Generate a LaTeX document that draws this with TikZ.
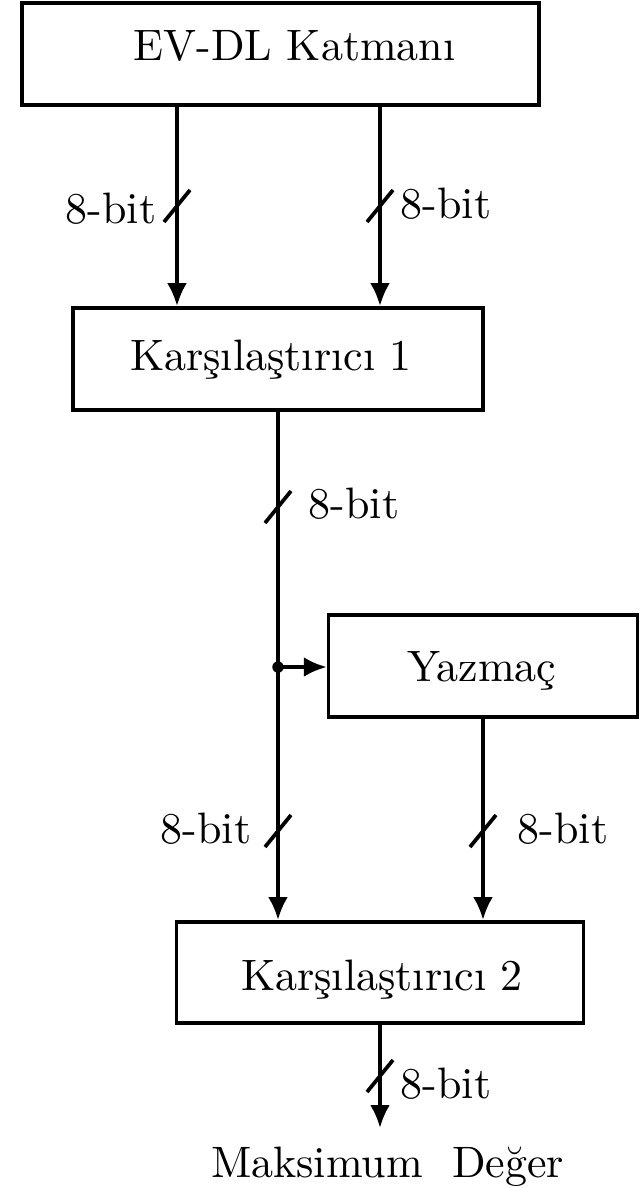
\documentclass[tikz,border=0pt]{standalone}
\usepackage{fontspec}
\usetikzlibrary{arrows.meta}

\begin{document}
\begin{tikzpicture}[x=0.2273pt,y=-0.2273pt,
  blk/.style={draw,line width=0.85pt,inner sep=0pt,minimum height=23.2pt},
  wire/.style={line width=0.85pt},
  arr/.style={wire,-{Latex[length=5.2pt,width=4.5pt]}},
  txt/.style={inner sep=0pt,anchor=base},
  bitlbl/.style={inner sep=0pt},
  junct/.style={circle,fill,inner sep=0pt,minimum size=2.6pt}]
\useasboundingbox (0,0) rectangle (641,1188);

% blocks
\node[blk,minimum width=117.5pt] (evdl) at (280.5,54) {};
\node[txt] (evdl-t) at (294.5,60) {EV-DL Katmanı};

\node[blk,minimum width=93.2pt] (k1) at (278,359) {};
\node[txt] (k1-t) at (271,370) {Karşılaştırıcı 1};

\node[blk,minimum width=70.2pt] (yaz) at (483,666) {};
\node[txt] (yaz-t) at (482,681) {Yazmaç};

\node[blk,minimum width=92.5pt,minimum height=23pt] (k2) at (380,972.5) {};
\node[txt] (k2-t) at (382,990) {Karşılaştırıcı 2};

\node[txt] (res) at (387.5,1177) {Maksimum\ \ Değer};

% wire positions
\coordinate (ta) at (177,0);
\coordinate (tb) at (380,0);
\coordinate (j) at (278,667);
\coordinate (outpt) at (380,1128);

% connectors
\draw[arr] (evdl.south -| ta) -- (k1.north -| ta);
\draw[arr] (evdl.south -| tb) -- (k1.north -| tb);
\draw[wire] (k1.south) -- (j);
\draw[arr] (j) -- (k1.south |- k2.north);
\draw[arr] (j) -- (j -| yaz.west);
\draw[arr] (yaz.south) -- (yaz.south |- k2.north);
\draw[arr] (k2.south) -- (outpt);
\node[junct] (jdot) at (j) {};

% bus width marks
\foreach \x/\y in {177/206,380/206,278/507,278/831,483/831,380/1076}{
  \draw[wire] (\x-13,\y+16) -- (\x+13,\y-16);
}

% bus width labels
\node[bitlbl,anchor=base east] (b1) at (157,223) {8-bit};
\node[bitlbl,anchor=base west] (b2) at (400,218) {8-bit};
\node[bitlbl,anchor=base west] (b3) at (308,518) {8-bit};
\node[bitlbl,anchor=base east] (b4) at (252,843) {8-bit};
\node[bitlbl,anchor=base west] (b5) at (517,843) {8-bit};
\node[bitlbl,anchor=base west] (b6) at (400,1098) {8-bit};
\end{tikzpicture}
\end{document}
